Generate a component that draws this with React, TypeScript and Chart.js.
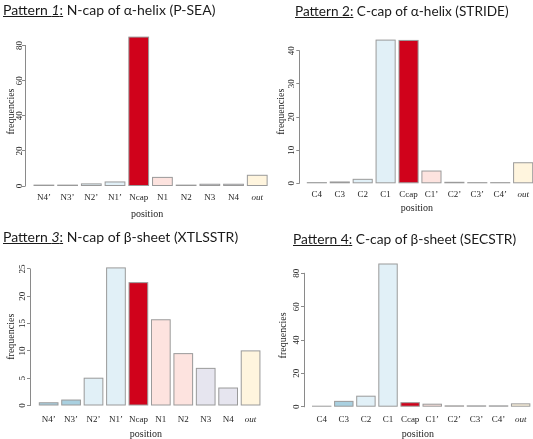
import React, { useEffect, useRef } from "react";
import { Chart, registerables } from "chart.js";

Chart.register(...registerables);

// ---------- data ----------
const nCapLabels = ["N4’", "N3’", "N2’", "N1’", "Ncap", "N1", "N2", "N3", "N4", "out"];
const cCapLabels = ["C4", "C3", "C2", "C1", "Ccap", "C1’", "C2’", "C3’", "C4’", "out"];

const helixNcapPSEA = [0.5, 0.5, 1.2, 2.3, 84.8, 4.9, 0.5, 1.0, 1.0, 6.1];
const helixCcapSTRIDE = [0.2, 0.4, 1.2, 43.2, 43.1, 3.7, 0.3, 0.2, 0.2, 6.2];
const sheetNcapXTLSSTR = [0.5, 1.0, 5.0, 25.2, 22.5, 15.7, 9.5, 6.8, 3.2, 10.0];
const sheetCcapSECSTR = [0.3, 3.2, 6.3, 85.6, 2.4, 1.5, 0.5, 0.5, 0.5, 1.7];

const ticks0to80 = [0, 20, 40, 60, 80];
const ticks0to40 = [0, 10, 20, 30, 40];
const ticks0to25 = [0, 5, 10, 15, 20, 25];

// ---------- styles ----------
const positionFills = [
  "#a9d0e0", "#a9d0e0", "#e1f0f7", "#e1f0f7", "#d0021b",
  "#fde3df", "#fde3df", "#e6e5ef", "#e6e5ef", "#fff5de",
];
const BAR_BORDER = "#9a9a9a";
const SERIF = "'Liberation Serif', 'Times New Roman', serif";
const TEXT = "#1e1e1e";
const AXIS = "#8a8a8a";

type PanelLayout = {
  left: number; top: number; width: number; height: number;
  yAxisWidth: number; xAxisHeight: number; padTop: number; padRight: number;
  xMin: number; xMax: number; yTickPad: number; xTickPad: number;
  yTitlePad: number; xTitlePad: number;
};

type PanelSpec = {
  labels: string[]; values: number[]; yTicks: number[];
  num: string; numItalic: boolean; rest: string;
  titleLeft: number; titleTop: number; titleSize: number;
  layout: PanelLayout;
};

const panels: PanelSpec[] = [
  {
    labels: nCapLabels, values: helixNcapPSEA, yTicks: ticks0to80,
    num: "1", numItalic: true, rest: " N-cap of α-helix (P-SEA)",
    titleLeft: 3, titleTop: 1.6, titleSize: 14,
    layout: { left: 0, top: 0, width: 272, height: 220, yAxisWidth: 25, xAxisHeight: 34,
      padTop: 37.1, padRight: 2.9, xMin: 0.203, xMax: 10.5, yTickPad: -2, xTickPad: 6,
      yTitlePad: 5, xTitlePad: 0 },
  },
  {
    labels: cCapLabels, values: helixCcapSTRIDE, yTicks: ticks0to40,
    num: "2", numItalic: false, rest: " C-cap of α-helix (STRIDE)",
    titleLeft: 295, titleTop: 3.5, titleSize: 13.6,
    layout: { left: 270, top: 0, width: 270, height: 220, yAxisWidth: 29.3, xAxisHeight: 36.7,
      padTop: 40.1, padRight: 5.4, xMin: 0.234, xMax: 10.5, yTickPad: 0.1, xTickPad: 6,
      yTitlePad: 5.7, xTitlePad: 5.5 },
  },
  {
    labels: nCapLabels, values: sheetNcapXTLSSTR, yTicks: ticks0to25,
    num: "3", numItalic: true, rest: " N-cap of β-sheet (XTLSSTR)",
    titleLeft: 3, titleTop: 228.6, titleSize: 14,
    layout: { left: 0, top: 220, width: 268, height: 219, yAxisWidth: 30, xAxisHeight: 33.5,
      padTop: 47.9, padRight: 6.2, xMin: 0.169, xMax: 10.5, yTickPad: 0.2, xTickPad: 8.4,
      yTitlePad: 5.7, xTitlePad: -1 },
  },
  {
    labels: cCapLabels, values: sheetCcapSECSTR, yTicks: ticks0to80,
    num: "4", numItalic: false, rest: " C-cap of β-sheet (SECSTR)",
    titleLeft: 293, titleTop: 231.1, titleSize: 13.8,
    layout: { left: 270, top: 220, width: 270, height: 219, yAxisWidth: 34, xAxisHeight: 32.3,
      padTop: 44, padRight: 8.3, xMin: 0.199, xMax: 10.5, yTickPad: -0.2, xTickPad: 8,
      yTitlePad: 7.3, xTitlePad: -1 },
  },
];

// R-style y axis line: only from first to last tick
const rAxisLine = {
  id: "rAxisLine",
  afterDraw(chart: any) {
    const y = chart.scales.y;
    const t = y.ticks;
    if (!t || !t.length) return;
    const ctx = chart.ctx;
    const x = Math.round(chart.chartArea.left) + 0.5;
    const y0 = y.getPixelForValue(t[0].value);
    const y1 = y.getPixelForValue(t[t.length - 1].value);
    ctx.save();
    ctx.strokeStyle = AXIS;
    ctx.lineWidth = 1;
    ctx.beginPath();
    ctx.moveTo(x, y0 + 0.5);
    ctx.lineTo(x, y1 - 0.5);
    ctx.stroke();
    ctx.restore();
  },
};

// R-style bar outlines: stroke centred on the rectangle edges
const rBarOutline = {
  id: "rBarOutline",
  afterDatasetsDraw(chart: any) {
    const ctx = chart.ctx;
    const meta = chart.getDatasetMeta(0);
    ctx.save();
    ctx.strokeStyle = BAR_BORDER;
    ctx.lineWidth = 1;
    meta.data.forEach((el: any) => {
      const { x, y, base, width } = el.getProps(["x", "y", "base", "width"], true);
      const l = x - width / 2;
      ctx.strokeRect(l, Math.min(y, base), width, Math.abs(base - y));
    });
    ctx.restore();
  },
};

function Panel({ spec }: { spec: PanelSpec }) {
  const ref = useRef<HTMLCanvasElement | null>(null);
  useEffect(() => {
    const L = spec.layout;
    const yMax = Math.max(...spec.values);
    const chart = new Chart(ref.current as HTMLCanvasElement, {
      type: "bar",
      data: {
        datasets: [
          {
            data: spec.values.map((v, i) => ({ x: i + 1, y: v })),
            backgroundColor: positionFills,
            borderWidth: 0,
            inflateAmount: 0,
            categoryPercentage: 1,
            barPercentage: 1 / 1.2,
            clip: false as any,
          },
        ],
      },
      options: {
        animation: false,
        responsive: false,
        maintainAspectRatio: false,
        devicePixelRatio: 1,
        layout: { padding: { top: L.padTop, right: L.padRight, bottom: 0, left: 0 } },
        plugins: { legend: { display: false }, tooltip: { enabled: false } },
        scales: {
          x: {
            type: "linear",
            offset: false,
            min: L.xMin,
            max: L.xMax,
            grid: { display: false, drawTicks: false, offset: false },
            border: { display: false },
            afterBuildTicks: (s: any) => {
              s.ticks = spec.labels.map((_, i) => ({ value: i + 1 }));
            },
            afterFit: (s: any) => {
              s.height = L.xAxisHeight;
              s.paddingLeft = 0;
              s.paddingRight = 0;
            },
            ticks: {
              autoSkip: false,
              maxRotation: 0,
              minRotation: 0,
              padding: L.xTickPad,
              color: TEXT,
              callback: (v: any) => spec.labels[Math.round(Number(v)) - 1],
              font: (ctx: any) => ({
                family: SERIF,
                size: 9,
                style: ctx.index === spec.labels.length - 1 ? "italic" : "normal",
              }),
            },
            title: {
              display: true,
              text: "position",
              color: TEXT,
              font: { family: SERIF, size: 10 },
              padding: { top: 0, bottom: L.xTitlePad },
            },
          },
          y: {
            type: "linear",
            min: 0,
            max: yMax,
            afterBuildTicks: (s: any) => {
              s.ticks = spec.yTicks.map((v) => ({ value: v }));
            },
            afterFit: (s: any) => {
              s.width = L.yAxisWidth;
              s.paddingTop = 0;
              s.paddingBottom = 0;
            },
            grid: { display: true, drawOnChartArea: false, drawTicks: true, tickLength: 3, color: AXIS },
            border: { display: false },
            ticks: {
              minRotation: 90,
              maxRotation: 90,
              crossAlign: "center",
              padding: L.yTickPad,
              color: TEXT,
              font: { family: SERIF, size: 9 },
              callback: (v: any) => String(v),
            },
            title: {
              display: true,
              text: "frequencies",
              color: TEXT,
              font: { family: SERIF, size: 10 },
              padding: { top: L.yTitlePad, bottom: 0 },
            },
          },
        },
      },
      plugins: [rAxisLine, rBarOutline],
    } as any);
    return () => chart.destroy();
  }, [spec]);

  const L = spec.layout;
  return (
    <>
      <canvas
        ref={ref}
        width={L.width}
        height={L.height}
        style={{ position: "absolute", left: L.left, top: L.top, width: L.width, height: L.height }}
      />
      <div
        style={{
          position: "absolute",
          left: spec.titleLeft,
          top: spec.titleTop,
          fontFamily: "Lato, 'Open Sans', sans-serif",
          fontSize: spec.titleSize,
          lineHeight: "15px",
          color: "#1a1a1a",
          whiteSpace: "nowrap",
        }}
      >
        <span style={{ textDecoration: "underline" }}>
          Pattern {spec.numItalic ? <i>{spec.num}</i> : spec.num}:
        </span>
        {spec.rest}
      </div>
    </>
  );
}

export default function App() {
  return (
    <div
      style={{
        position: "fixed",
        left: 0,
        top: 0,
        width: 533,
        height: 439,
        overflow: "hidden",
        background: "#ffffff",
      }}
    >
      {panels.map((p, i) => (
        <Panel key={i} spec={p} />
      ))}
    </div>
  );
}
